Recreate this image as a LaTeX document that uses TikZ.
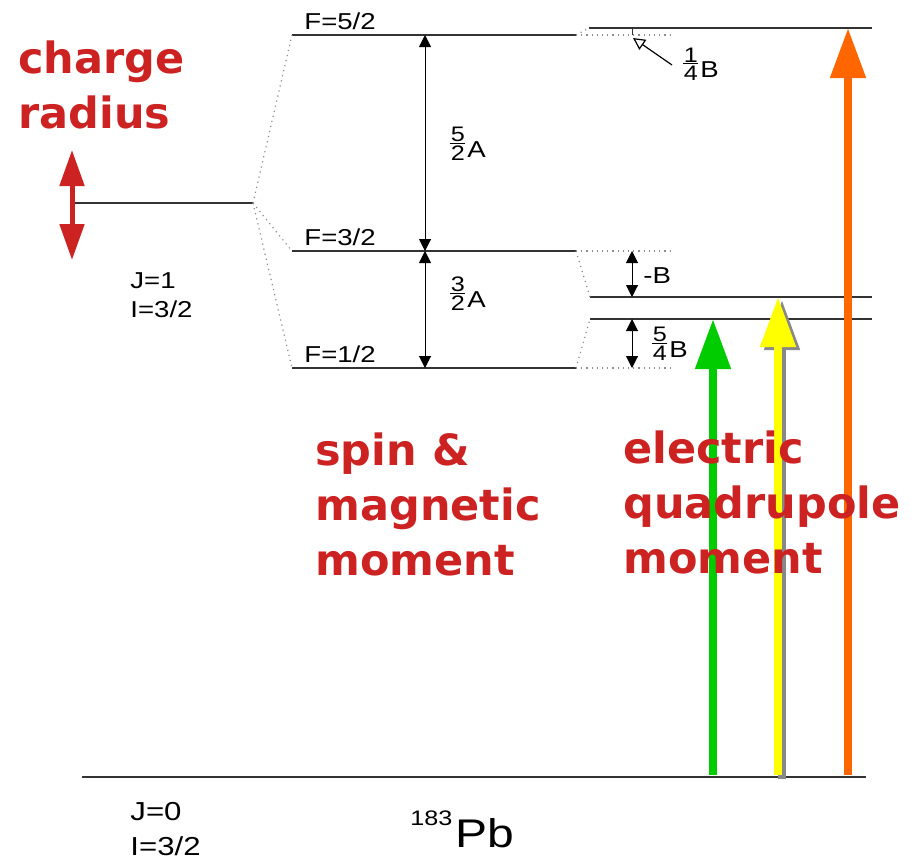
\documentclass[tikz,border=0pt]{standalone}
\usepackage{fontspec}
\setmainfont{Liberation Sans}[FakeStretch=1.2]
\newfontfamily\boldlab{DejaVu Sans}
\usetikzlibrary{arrows.meta}
\definecolor{lRed}{HTML}{CC2222}
\definecolor{lGreen}{HTML}{00CC00}
\definecolor{lYellow}{HTML}{FFFF00}
\definecolor{lOrange}{HTML}{FF6600}
\definecolor{lGray}{HTML}{888888}
\newcommand\frc[2]{\raisebox{-1.5pt}{\vbox{\fontsize{10.5}{12}\selectfont
  \hbox to 7.5pt{\hfil#1\hfil}\kern0.6pt\hrule height0.5pt\kern0.6pt
  \hbox to 7.5pt{\hfil#2\hfil}}}\kern1pt}

\begin{document}
\begin{tikzpicture}[
  x=0.5pt, y=-0.5pt,
  level/.style={draw=black!80, line width=0.75pt},
  guide/.style={draw=black!45, dotted, line width=0.6pt},
  gap/.style={line width=0.5pt, {Triangle[width=6pt,length=6pt]}-{Triangle[width=6pt,length=6pt]}},
  lab/.style={font=\fontsize{11.5}{14.5}\selectfont, inner sep=0pt, anchor=base west},
  big/.style={font=\boldlab\bfseries\fontsize{21.5}{27.5}\selectfont, text=lRed,
              align=left, anchor=north west, inner sep=0pt},
  fat/.style={line width=4pt, -{Triangle[width=17pt,length=25pt]}},
]
  \useasboundingbox (0,0) rectangle (913,859);

  % levels
  \coordinate (j1a) at (75,203);   \coordinate (j1b) at (253,203);
  \coordinate (f52a) at (292,35);  \coordinate (f52b) at (576,35);
  \coordinate (f32a) at (292,251); \coordinate (f32b) at (576,251);
  \coordinate (f12a) at (292,368); \coordinate (f12b) at (576,368);
  \coordinate (q1a) at (589,28);   \coordinate (q1b) at (872,28);
  \coordinate (q2a) at (590,297);  \coordinate (q2b) at (872,297);
  \coordinate (q3a) at (590,319);  \coordinate (q3b) at (872,319);
  \coordinate (g0a) at (82,777);   \coordinate (g0b) at (866,777);

  \draw[level] (j1a) -- (j1b);
  \draw[level] (f52a) -- (f52b);
  \draw[level] (f32a) -- (f32b);
  \draw[level] (f12a) -- (f12b);
  \draw[level] (q1a) -- (q1b);
  \draw[level] (q2a) -- (q2b);
  \draw[level] (q3a) -- (q3b);
  \draw[level] (g0a) -- (g0b);

  \draw[guide] (j1b) -- (f52a);
  \draw[guide] (j1b) -- (f32a);
  \draw[guide] (j1b) -- (f12a);
  \draw[guide] (f52b) -- (q1a);
  \draw[guide] (f32b) -- (q2a);
  \draw[guide] (f12b) -- (q3a);
  \draw[guide] (f52b) -- ++(94,0) coordinate (f52c);
  \draw[guide] (f32b) -- ++(94,0) coordinate (f32c);
  \draw[guide] (f12b) -- ++(94,0) coordinate (f12c);

  % splittings
  \coordinate (tk) at (632,28);
  \draw[level, line width=0.5pt] (tk) -- (632,35);
  \draw[gap] (425,35) -- (425,251);
  \draw[gap] (425,251) -- (425,368);
  \draw[gap] (632,251) -- (632,297);
  \draw[gap] (632,319) -- (632,368);
  \coordinate (qb) at (672,65);
  \draw[line width=0.6pt, -{Triangle[open,width=6pt,length=6pt]}] (qb) -- (633,38);

  \node[lab] (lf52) at (304,29) {F=5/2};
  \node[lab] (lf32) at (304,245) {F=3/2};
  \node[lab] (lf12) at (304,362) {F=1/2};
  \node[lab] (la52) at (450,157) {\frc{5}{2}A};
  \node[lab] (la32) at (450,307) {\frc{3}{2}A};
  \node[lab] (lb14) at (683,77) {\frc{1}{4}B};
  \node[lab] (lbm) at (643,283) {-B};
  \node[lab] (lb54) at (652,357) {\frc{5}{4}B};
  \node[lab, anchor=north west, align=left] (lj1) at (130,272) {J=1\\I=3/2};
  \node[lab, anchor=north west, align=left, font=\fontsize{13}{17.5}\selectfont]
    (lj0) at (130,802) {J=0\\I=3/2};
  \node[lab] (lpb) at (410,847)
    {{\fontsize{10.5}{12}\selectfont\raisebox{11pt}{183}}\kern1.5pt{\fontsize{20}{22}\selectfont Pb}};

  % transitions
  \draw[line width=2.5pt, lRed, {Triangle[width=12pt,length=18pt]}-{Triangle[width=12pt,length=18pt]}]
    (72,150) -- (72,260);
  \draw[fat, lGreen] (713,775) -- (q3a -| 713,0);
  \draw[fat, lGray] (782,779) -- (782,300);
  \draw[fat, lYellow] (778,775) -- (q2a -| 778,0);
  \draw[fat, lOrange] (848,775) -- (q1a -| 848,0);

  \node[big] (tcr) at (18,40) {charge\\radius};
  \node[big] (tsm) at (315,432) {spin \&\\magnetic\\moment};
  \node[big] (teq) at (623,430) {electric\\quadrupole\\moment};
\end{tikzpicture}
\end{document}
